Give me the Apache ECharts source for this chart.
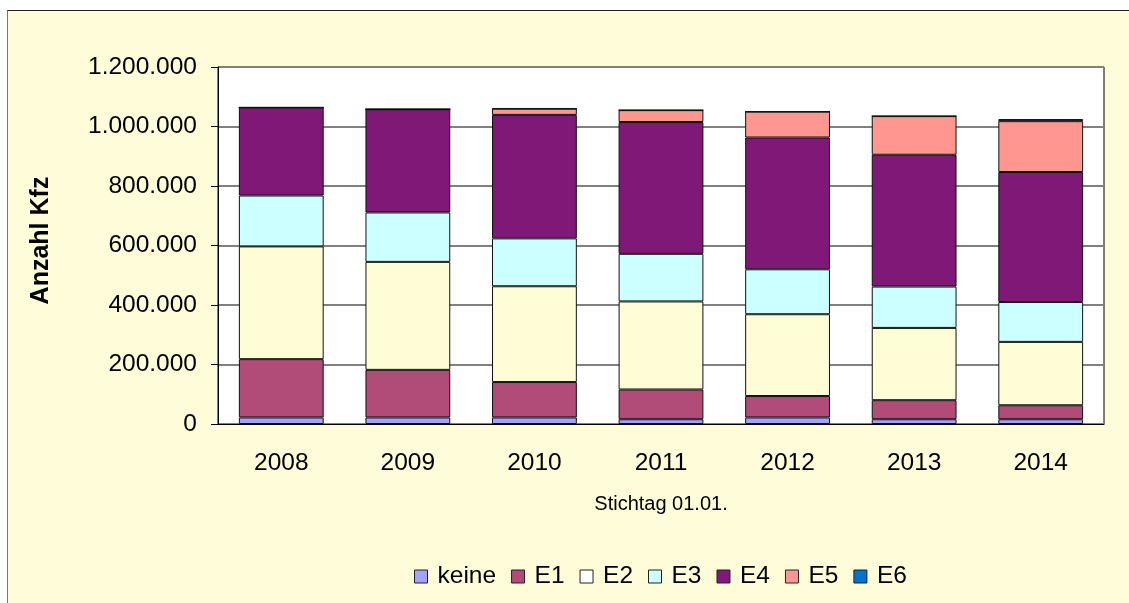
<!DOCTYPE html>
<html>
<head>
<meta charset="utf-8">
<script src="https://cdn.jsdelivr.net/npm/echarts@6/dist/echarts.min.js"></script>
<style>
html, body { margin: 0; padding: 0; background: #ffffff; }
#frame {
    position: absolute; left: 7px; top: 10px; width: 1140px; height: 620px;
    background: #fffcd9; border-top: 1px solid #222; border-left: 1px solid #777;
}
#chart { position: absolute; left: 0; top: 0; width: 1129px; height: 603px; }
</style>
</head>
<body>
<div id="frame"></div>
<div id="chart"></div>
<script>
// Jahre (Stichtag 01.01.)
var years = ['2008', '2009', '2010', '2011', '2012', '2013', '2014'];

// Kfz je Schadstoffklasse
var keine = [22000, 22000, 22000, 16000, 22000, 16000, 16000];
var e1 = [196000, 160000, 119000, 100000, 72000, 64000, 47000];
var e2 = [379000, 363000, 322000, 296000, 275000, 243000, 213000];
var e3 = [171000, 166000, 161000, 160000, 151000, 139000, 134000];
var e4 = [296000, 347000, 415000, 443000, 443000, 443000, 437000];
var e5 = [0, 0, 21000, 40000, 87000, 130000, 171000];
var e6 = [0, 0, 0, 0, 0, 0, 7000];

var seriesNames = ['keine', 'E1', 'E2', 'E3', 'E4', 'E5', 'E6'];
var seriesData = [keine, e1, e2, e3, e4, e5, e6];
var colors = ['#a3a3ff', '#b04c77', '#fffdd6', '#ccffff', '#801878', '#ff9690', '#0074cc'];
var legendColors = ['#a3a3ff', '#b04c77', '#ffffff', '#ccffff', '#801878', '#ff9690', '#0074cc'];

var font = '"Liberation Sans", Arial, sans-serif';

function fmtDe(v) {
    return String(v).replace(/\B(?=(\d{3})+(?!\d))/g, '.');
}

var chart = echarts.init(document.getElementById('chart'));

var series = seriesNames.map(function (name, i) {
    return {
        name: name,
        type: 'bar',
        stack: 'kfz',
        barCategoryGap: '33%',
        data: seriesData[i],
        itemStyle: { color: colors[i], borderColor: '#111', borderWidth: 1 },
        emphasis: { disabled: true }
    };
});

var option = {
    animation: false,
    textStyle: { fontFamily: font },
    legend: {
        data: seriesNames.map(function (n, i) {
            return { name: n, itemStyle: { color: legendColors[i], borderColor: '#222', borderWidth: 1 } };
        }),
        top: 559,
        left: 409,
        itemWidth: 13,
        itemHeight: 13,
        itemGap: 15,
        icon: 'rect',
        textStyle: { fontFamily: font, fontSize: 24.5, color: '#000', padding: [0, 0, 0, 5] }
    },
    grid: { left: 218, top: 67, right: 25, bottom: 179, backgroundColor: '#fff', show: true, borderColor: '#000', borderWidth: 1 },
    xAxis: {
        type: 'category',
        data: years,
        name: 'Stichtag 01.01.',
        nameLocation: 'middle',
        nameGap: 70,
        nameTextStyle: { fontFamily: font, fontSize: 20, color: '#000' },
        axisLine: { lineStyle: { color: '#000', width: 1 } },
        axisTick: { show: false },
        axisLabel: { fontFamily: font, fontSize: 24.5, color: '#000', margin: 27 }
    },
    yAxis: {
        type: 'value',
        min: 0,
        max: 1200000,
        interval: 200000,
        name: 'Anzahl Kfz',
        nameLocation: 'middle',
        nameGap: 164,
        nameRotate: 90,
        nameTextStyle: { fontFamily: font, fontSize: 25, fontWeight: 'bold', color: '#000', padding: [0, 0, 0, 10] },
        axisLine: { show: true, lineStyle: { color: '#000', width: 1 } },
        axisTick: { show: true, length: 7, lineStyle: { color: '#000' } },
        axisLabel: { fontFamily: font, fontSize: 24.5, color: '#000', margin: 21, formatter: fmtDe },
        splitLine: { lineStyle: { color: '#808080', width: 2 } }
    },
    series: series
};

chart.setOption(option);
</script>
</body>
</html>
